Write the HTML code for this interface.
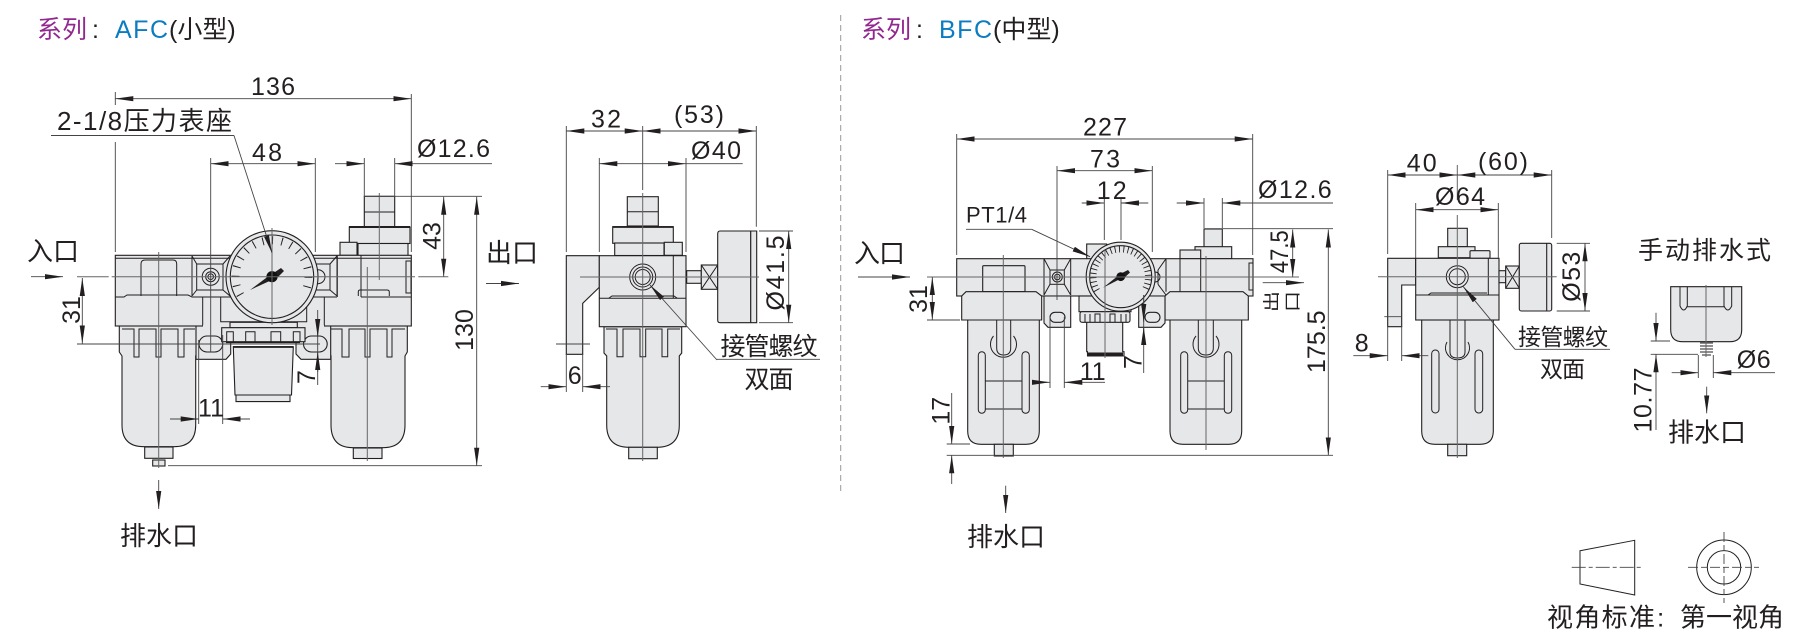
<!DOCTYPE html>
<html><head><meta charset="utf-8"><style>
html,body{margin:0;padding:0;background:#fff}
svg{display:block}
text{font-family:"Liberation Sans","Noto Sans CJK SC",sans-serif;fill:#231f20;font-size:25px}
.o{fill:#e6e7e9;stroke:#231f20;stroke-width:1.1}
.n{fill:none;stroke:#231f20;stroke-width:1}
.c{fill:none;stroke:#666;stroke-width:1}
.d{fill:none;stroke:#444;stroke-width:.9}
.da{fill:none;stroke:#444;stroke-width:.9;marker-end:url(#a);marker-start:url(#r)}
.a1{fill:none;stroke:#444;stroke-width:.9;marker-end:url(#a)}
.m{text-anchor:middle}
.z{font-size:26px}
</style></head><body>
<svg width="1795" height="633" viewBox="0 0 1795 633" xmlns="http://www.w3.org/2000/svg">
<defs>
<marker id="a" markerUnits="userSpaceOnUse" markerWidth="18" markerHeight="6" refX="18" refY="3" orient="auto"><path d="M0 0.4L18 3L0 5.6z" fill="#231f20"/></marker>
<marker id="r" markerUnits="userSpaceOnUse" markerWidth="18" markerHeight="6" refX="18" refY="3" orient="auto-start-reverse"><path d="M0 0.4L18 3L0 5.6z" fill="#231f20"/></marker>
</defs>
<rect width="1795" height="633" fill="#fff"/>

<!-- titles -->
<text x="37" y="38" style="fill:#92278f">系列</text>
<text x="92" y="38">:</text>
<text x="115" y="38" style="fill:#0a7cc1" textLength="53">AFC</text>
<text x="169" y="38">(小型)</text>
<text x="861" y="38" style="fill:#92278f">系列</text>
<text x="916" y="38">:</text>
<text x="939" y="38" style="fill:#0a7cc1" textLength="53">BFC</text>
<text x="993" y="38">(中型)</text>
<path d="M840.7 15V495" fill="none" stroke="#999" stroke-width="1" stroke-dasharray="6 4"/>

<!-- ============ AFC FRONT ============ -->
<rect class="o" x="364.3" y="196.3" width="30.4" height="31"/>
<path class="n" d="M364.3 212H394.7"/>
<rect class="o" x="349.3" y="227" width="60.7" height="16.5"/>
<path d="M349 227H410" stroke="#231f20" stroke-width="2"/>
<rect class="o" x="358" y="243.5" width="50" height="12"/>
<rect class="o" x="340" y="242.3" width="17" height="13"/>
<!-- left bowl -->
<path class="o" d="M119.3 326V352L122 356V425Q122 446.7 144 446.7H174Q195.7 446.7 195.7 425V356L197 352V326z"/>
<path class="n" d="M122 329H134V357H139V329H156V357H161V329H178V357H184V329H195"/>
<rect class="o" x="144.7" y="447" width="28.3" height="11.3"/>
<rect class="o" x="152.7" y="460" width="12.3" height="6"/>
<!-- right bowl -->
<path class="o" d="M329.3 326V352L331 356V425Q331 447.7 353 447.7H383Q405 447.7 405 425V356L407.3 352V326z"/>
<path class="n" d="M331 329H342V357H349V329H365V357H370V329H387V357H392V329H405"/>
<rect class="o" x="353.3" y="448" width="28.7" height="10.5"/>
<!-- brackets -->
<path class="o" d="M196 326V359.3H226L230.7 354V326z"/>
<path class="o" d="M330.7 326V359.3H301L296 354V326z"/>
<rect class="o" x="199" y="336" width="23.7" height="16" rx="8"/>
<rect class="o" x="303.5" y="336" width="23.7" height="16" rx="8"/>
<!-- regulator knob -->
<path class="o" d="M233.3 346.7H293.3L291.5 395H235z"/>
<path class="o" d="M236 395H290V401.6H236z"/>
<path d="M233 347H293" stroke="#231f20" stroke-width="1.8"/>
<!-- head -->
<rect class="o" x="115.3" y="255.3" width="296" height="70.7"/>
<path class="n" d="M115.3 258.3H411.3M115.3 297H124L127 295H188L192 297H337M361 297H411"/>
<path class="n" d="M141 296V264Q141 260 145 260H173Q176.7 260 176.7 264V296"/>
<rect class="n" x="406" y="261" width="5" height="32"/>
<path class="n" d="M337.3 255.5V297M361 255.5V297M358.3 296V292Q358.3 290 360 290H387Q389.3 290 389.3 292V296"/>
<path class="n" d="M192 256V296M202.7 297V326M220.7 297V321.7H306.7V297M324.3 297V326"/>
<rect class="n" x="196.7" y="264" width="26.3" height="26"/>
<path class="n" d="M192 256L196.7 264M192 296L196.7 290M230 256L223 264M230 296L223 290"/>
<circle class="n" cx="210.7" cy="276.7" r="8.5"/><circle class="n" cx="210.7" cy="276.7" r="5"/><circle class="n" cx="210.7" cy="276.7" r="2.8"/>
<path class="n" d="M337 256V296M330 264V290H315M330 264H315M337 256L330 264M337 296L330 290"/>
<circle class="n" cx="318" cy="276.7" r="7"/>
<rect x="203" y="325" width="121" height="2" fill="#e6e7e9"/>
<rect class="o" x="230" y="322.3" width="67.3" height="5.4"/>
<rect class="o" x="221.7" y="327.7" width="83.3" height="14"/>
<path class="n" d="M226.7 342V331.7H233.3V342M245.7 342V331.7H255V342M271 342V331.7H280.7V342M293.3 342V331.7H300V342"/>
<path d="M226 342.3H300" stroke="#231f20" stroke-width="1.6"/>
<!-- gauge -->
<circle cx="272" cy="276.7" r="46" fill="#e6e7e9" stroke="#231f20" stroke-width="1.1"/>
<circle cx="272" cy="276.7" r="41.7" fill="#e6e7e9" stroke="#231f20" stroke-width="1.1"/>
<path d="M240.4 295A36.5 36.5 0 1 1 303.6 295" fill="none" stroke="#231f20" stroke-width="8" stroke-dasharray="1 8.55"/>
<path d="M250 290L270 275L274 279z" fill="#231f20"/>
<path d="M272 274L281 268L284 271L275 280z" fill="#231f20"/>
<circle cx="272" cy="276.7" r="5.6" fill="#111"/>

<!-- center lines AFC -->
<path class="c" d="M77 276.7H108.7M111.7 276.7H415M418.3 276.7H448.3"/>
<path class="c" d="M158.7 252V468M367.3 267V461M272 228V325M379.3 193V280"/>
<path class="a1" d="M31 276.7H63"/>
<path class="d" d="M77 344H320"/>
<path class="d" d="M115.3 92V105M115.3 142V252M411.3 94V252M210.7 158V352M315.3 158V252M364.3 158V197M394.7 158V197M364 196.3H482M168 465.7H482"/>
<path class="da" d="M115.3 98.7H411.3"/>
<path class="d" d="M51 135.5H234"/>
<path class="a1" d="M234 135.5L272 253"/>
<path class="da" d="M210.7 163.7H315.3"/>
<path class="a1" d="M335 163.7H364.3"/>
<path class="a1" d="M492 163.7H394.7"/>
<path class="da" d="M443.7 196.8V276.7"/>
<path class="da" d="M476.7 196.8V465.7"/>
<path class="da" d="M82.3 278V343.5"/>
<path class="d" d="M317.7 310V385M198.7 340V424M222.7 335V424"/>
<path class="a1" d="M317.7 319V337"/><path class="a1" d="M317.7 372V352"/>
<path class="a1" d="M170 419H198.7"/><path class="a1" d="M250 419H222.7"/>
<path class="a1" d="M158.7 480V509"/>
<path class="a1" d="M486 283.5H519"/>

<text x="273" y="95" class="m" textLength="44">136</text>
<text x="57" y="130" class="z" textLength="175">2-1/8压力表座</text>
<text x="267" y="161" class="m" textLength="30">48</text>
<text x="417" y="157" textLength="73">Ø12.6</text>
<text x="27" y="260.5" class="z" textLength="52">入口</text>
<text x="486" y="262" class="z" textLength="52">出口</text>
<text x="120" y="545" class="z" textLength="78">排水口</text>
<text x="211" y="416.7" class="m">11</text>
<text class="m" transform="translate(440.5 236) rotate(-90)">43</text>
<text class="m" transform="translate(473 330) rotate(-90)">130</text>
<text class="m" transform="translate(80 310) rotate(-90)">31</text>
<text class="m" transform="translate(315 377) rotate(-90)">7</text>

<!-- ============ AFC SIDE ============ -->
<rect class="o" x="627.3" y="196.7" width="31" height="29.3"/>
<path class="n" d="M627.3 211.7H658.3"/>
<rect class="o" x="612.7" y="226.7" width="60.6" height="16.6"/>
<path d="M612.7 227H673.3" stroke="#231f20" stroke-width="1.8"/>
<rect class="o" x="614.7" y="243" width="49.3" height="12.5"/>
<rect class="o" x="664.3" y="242.3" width="18" height="13"/>
<path class="o" d="M604 326.7V353L606.7 356V425Q606.7 447.3 629 447.3H657Q679.3 447.3 679.3 425V356L681.7 353V326.7z"/>
<path class="n" d="M606 329H617V356.7H623V329H640V356.7H645.7V329H662V356.7H667.7V329H680"/>
<rect class="o" x="628.7" y="447.3" width="28.6" height="11.4"/>
<path class="o" d="M566.3 255.7H599.3V287.3L582.7 303.3V354.3H566.3z"/>
<rect class="o" x="599.3" y="255.7" width="86.7" height="71"/>
<path class="n" d="M599.3 298.3H686M673.3 255.7V298.3M609 298L612 296H674L677 298"/>
<circle class="n" cx="642.7" cy="277" r="13"/><circle class="n" cx="642.7" cy="277" r="10"/><circle class="n" cx="642.7" cy="277" r="7.5"/>
<rect class="o" x="686.7" y="270.7" width="14.6" height="12.6"/>
<rect class="o" x="701.3" y="265" width="16.4" height="24.3"/>
<path class="n" d="M701.3 265L717.7 289.3M717.7 265L701.3 289.3"/>
<path class="o" d="M720 231H756.7V322.7H720Q717.7 322.7 717.7 320V234Q717.7 231 720 231z"/>
<path d="M750.7 231V322.7" stroke="#231f20" stroke-width="1.2"/>
<path class="c" d="M580 277H759M642.7 193V461"/>
<path class="d" d="M566.3 126V252M642.7 126V190M756.3 126V226.7M599.3 158V252M686 158V252M556 344H590M759 231H793M759 322.7H793M566.3 354V392M582.7 354V392"/>
<path class="da" d="M566.3 131H642.7"/>
<path class="da" d="M642.7 131H756.3"/>
<path class="da" d="M599.3 163.7H686"/><path class="d" d="M686 163.7H742.7"/>
<path class="da" d="M788.7 231V322.7"/>
<path class="a1" d="M540.7 386.7H566.3"/><path class="a1" d="M610 386.7H582.7"/>
<path class="a1" d="M717 360L650 285"/>
<path class="d" d="M716.7 359.3H820"/>
<text x="606" y="127.7" class="m" textLength="30">32</text>
<text x="699" y="123" class="m" textLength="50">(53)</text>
<text x="691" y="159" textLength="50">Ø40</text>
<text class="m" transform="translate(784 273) rotate(-90)" textLength="75">Ø41.5</text>
<text x="574.7" y="384" class="m">6</text>
<text x="720.5" y="355" textLength="97">接管螺纹</text>
<text x="744.5" y="388" textLength="49">双面</text>

<!-- ============ BFC FRONT ============ -->
<rect class="o" x="1204" y="229" width="18.3" height="18"/>
<rect class="o" x="1195" y="246.7" width="36.7" height="12"/>
<rect class="o" x="1180" y="250" width="20.7" height="8.7"/>
<rect class="o" x="1086.7" y="244" width="20" height="15"/>
<!-- bowls -->
<path class="o" d="M967.7 320V431Q967.7 444.3 981 444.3H1026Q1039.3 444.3 1039.3 431V320z"/>
<path class="n" d="M996.7 320V348Q996.7 355 1003.7 355Q1010.7 355 1010.7 348V320"/>
<path class="n" d="M993.5 336A13 13 0 1 0 1013.5 336"/>
<rect class="n" x="978.3" y="351.7" width="7" height="61.6" rx="3.5"/>
<rect class="n" x="1022" y="351.7" width="7.3" height="61.6" rx="3.6"/>
<path class="n" d="M985.3 381H1022M985.3 409H1022"/>
<rect class="o" x="994.3" y="444.3" width="19" height="11.7"/>
<path class="o" d="M1170 320V431Q1170 444.3 1183 444.3H1228.7Q1241.7 444.3 1241.7 431V320z"/>
<path class="n" d="M1198.3 320V348Q1198.3 355 1206 355Q1213.3 355 1213.3 348V320"/>
<path class="n" d="M1196 336A13 13 0 1 0 1216 336"/>
<rect class="n" x="1180.7" y="351.7" width="7" height="61.6" rx="3.5"/>
<rect class="n" x="1224.3" y="351.7" width="7.4" height="61.6" rx="3.6"/>
<path class="n" d="M1187.7 381H1224.3M1187.7 409H1224.3"/>
<!-- head upper -->
<rect class="o" x="956.7" y="258.7" width="296.3" height="37.3"/>
<rect class="o" x="982.7" y="265.7" width="42.3" height="26" rx="1"/>
<rect class="n" x="1249" y="263" width="4" height="27"/>
<path class="n" d="M1180 258.7V291.7M1200.7 258.7V291.7M1044 258.7V295M1070.7 258.7V295M1166 258.7V291.7"/>
<rect class="n" x="1050" y="270" width="14.3" height="14.3"/>
<path class="n" d="M1044 258.7L1050 270M1070.7 258.7L1064.3 270M1044 295L1050 284.3M1070.7 295L1064.3 284.3"/>
<circle class="n" cx="1057.3" cy="277" r="5"/><circle class="n" cx="1057.3" cy="277" r="2.8"/>
<path class="n" d="M1166 258.7L1158 270M1166 295L1158 284.3M1158 270V284.3"/>
<circle class="n" cx="1155" cy="277" r="5"/>
<!-- head lower split -->
<path class="o" d="M961.7 320V296L966 291.7H1036L1041.7 296V320z"/>
<path class="o" d="M1165 320V296L1170 291.7H1243L1248.3 296V320z"/>
<!-- brackets -->
<path class="o" d="M1044 296V323L1048 327.3H1070.7V296z"/>
<path class="o" d="M1138.7 296V327.3H1161L1165 323V296z"/>
<rect class="o" x="1050" y="312.3" width="15" height="10" rx="5"/>
<rect class="o" x="1145" y="312.3" width="15" height="10" rx="5"/>
<!-- knob -->
<rect class="o" x="1079" y="296" width="52" height="15.7"/>
<path class="o" d="M1086.7 322H1122.7V351.7H1124V356H1087.5V351.7H1086.7z"/>
<rect class="o" x="1080" y="311.7" width="50" height="10.6" rx="2"/>
<path class="n" d="M1085 322V314M1090 322V314M1095 322V314H1100V322M1110 322V314H1115V322M1121 322V314M1126 322V314"/>
<path d="M1087 354H1123" stroke="#231f20" stroke-width="3"/>
<!-- gauge -->
<circle cx="1120.7" cy="276.7" r="34.5" fill="#e6e7e9" stroke="#231f20" stroke-width="1.1"/>
<circle cx="1120.7" cy="276.7" r="31" fill="#e6e7e9" stroke="#231f20" stroke-width="1.1"/>
<path d="M1096.9 290.45A27.5 27.5 0 1 1 1144.5 290.45" fill="none" stroke="#231f20" stroke-width="6.5" stroke-dasharray=".9 3.4"/>
<path d="M1103 287.7L1119 275L1122 278z" fill="#231f20"/>
<path d="M1120 274L1128 270L1130 272.5L1123 279z" fill="#231f20"/>
<circle cx="1120.7" cy="276.7" r="4.4" fill="#111"/>

<path class="c" d="M858 277H910M927 277H1299M1003.3 255V458M1206 256V450M1105 250V358"/>
<path class="d" d="M956.7 134V255M1252.7 134V255M1057 166V300M1152.3 166V252M1104.3 198V240M1121 198V240M1204 198V228M1222.3 198V228M1204 228.7H1333M966 229.3H1031.7M927 320H960M946.7 444H970M946.7 455.3H1333M1143.7 295V373M1050 317V388M1064.3 317V388"/>
<path class="a1" d="M858 277H910"/>
<path class="da" d="M956.7 139H1252.7"/>
<path class="da" d="M1057 170.7H1152.3"/>
<path class="a1" d="M1081.7 203H1104.3"/><path class="a1" d="M1148.3 203H1121"/>
<path class="a1" d="M1176.7 203H1204"/><path class="a1" d="M1333 203H1222.3"/>
<path class="a1" d="M1031.7 229.3L1090 256.7"/>
<path class="da" d="M932.3 277V320"/>
<path class="da" d="M1292.7 229.5V277"/>
<path class="da" d="M1328.3 229.5V455.3"/>
<path class="a1" d="M1262.7 282.7H1304"/>
<path class="a1" d="M1143.7 295V322"/><path class="a1" d="M1143.7 345V327"/>
<path class="a1" d="M951.7 393V444"/><path class="a1" d="M951.7 484V455.3"/>
<path class="a1" d="M1032 382.3H1050"/><path class="a1" d="M1105 382.3H1064.3"/>
<path class="a1" d="M1005.7 485.7V513"/>
<text x="1105" y="135.7" class="m" textLength="44">227</text>
<text x="1105" y="167.7" class="m" textLength="30">73</text>
<text x="1111.7" y="199" class="m" textLength="30">12</text>
<text x="1258" y="198" textLength="73.7">Ø12.6</text>
<text x="966" y="222.7" style="font-size:22px" textLength="61">PT1/4</text>
<text x="854" y="262.7" class="z" textLength="51">入口</text>
<text x="967" y="546" class="z" textLength="78">排水口</text>
<text x="1092.7" y="380" class="m">11</text>
<text class="m" transform="translate(927 299) rotate(-90)">31</text>
<text class="m" transform="translate(1288 251.7) rotate(-90) scale(.88 1)">47.5</text>
<text class="m" transform="translate(1325 341.7) rotate(-90)">175.5</text>
<text class="m" transform="translate(949.3 410.7) rotate(-90)">17</text>
<text class="m" transform="translate(1141.7 362) rotate(-90)">7</text>
<text transform="translate(1277.5 312) rotate(-90) scale(1 .8)" style="font-size:21px">出</text>
<text transform="translate(1298.5 312) rotate(-90) scale(1 .8)" style="font-size:21px">口</text>

<!-- ============ BFC SIDE ============ -->
<rect class="o" x="1447.7" y="228.3" width="19.6" height="18.4"/>
<rect class="o" x="1438.3" y="246.7" width="36.7" height="11"/>
<rect class="o" x="1470" y="250.7" width="20" height="7.6" rx="1"/>
<path class="o" d="M1421.7 320V431Q1421.7 444.3 1435 444.3H1480Q1493.3 444.3 1493.3 431V320z"/>
<path class="n" d="M1450 320V352Q1450 358 1457.3 358Q1465 358 1465 352V320"/>
<path class="n" d="M1447 342A12 12 0 1 0 1468 342"/>
<rect class="n" x="1431.7" y="350" width="7.3" height="63" rx="3.6"/>
<rect class="n" x="1475" y="350" width="7.7" height="63" rx="3.8"/>
<rect class="o" x="1447.7" y="444.3" width="19" height="11.4"/>
<path class="o" d="M1387.7 258.3H1415.7V285H1401.7V326.7H1387.7z"/>
<rect class="o" x="1415.7" y="258.3" width="83.3" height="61.7"/>
<path class="n" d="M1415.7 295H1499M1488.3 258.3V295M1428 295L1431 293H1487"/>
<circle class="n" cx="1457.3" cy="276.7" r="11"/><circle class="n" cx="1457.3" cy="276.7" r="8"/>
<rect class="o" x="1499" y="270.7" width="6.7" height="12"/>
<rect class="o" x="1505.7" y="266" width="13.6" height="22.3"/>
<path class="n" d="M1505.7 266L1519.3 288.3M1519.3 266L1505.7 288.3"/>
<rect class="o" x="1519.3" y="243.3" width="32.4" height="67.7" rx="2"/>
<path d="M1546.7 243.3V311" stroke="#231f20" stroke-width="1.1"/>
<path class="c" d="M1378 276.7H1556.7M1457.3 165V200M1457.3 215V458"/>
<path class="d" d="M1387.7 170V254M1551.7 170V238M1415.7 203V258M1498.3 203V258M1384.3 316.7H1401.7M1556.7 243.3H1590M1556.7 311H1590M1387.7 326V361M1401.7 326V361M1515 349.3H1610"/>
<path class="da" d="M1387.7 175H1457.3"/>
<path class="da" d="M1457.3 175H1551.7"/>
<path class="da" d="M1415.7 209.7H1498.3"/>
<path class="da" d="M1585 243.3V311"/>
<path class="a1" d="M1353.3 355.7H1387.7"/><path class="a1" d="M1428.3 355.7H1401.7"/>
<path class="a1" d="M1515 349.3L1463.3 286.7"/>
<text x="1421.7" y="171.7" class="m" textLength="30">40</text>
<text x="1503" y="170" class="m" textLength="50">(60)</text>
<text x="1460" y="205" class="m" textLength="50">Ø64</text>
<text class="m" transform="translate(1580 276.7) rotate(-90)" textLength="50">Ø53</text>
<text x="1361.7" y="351.7" class="m">8</text>
<text x="1518" y="345" style="font-size:23px" textLength="90">接管螺纹</text>
<text x="1540" y="377" style="font-size:23px" textLength="45">双面</text>

<!-- ============ MANUAL DRAIN ============ -->
<text x="1638" y="259" textLength="133">手动排水式</text>
<path class="o" d="M1670.7 286.7H1741.7V329.7Q1741.7 341.7 1729.7 341.7H1682.7Q1670.7 341.7 1670.7 329.7z"/>
<path class="n" d="M1680 286.7V306Q1683.7 314 1687.3 306V286.7M1724 286.7V306Q1727.8 314 1731.7 306V286.7M1687.3 306.7H1724"/>
<path class="n" d="M1700 343H1713M1700 346H1713M1700 349H1713M1700 352H1713M1702 355H1711"/>
<path class="c" d="M1706 285V357"/>
<path class="d" d="M1650.7 341H1670M1650.7 354.3H1698M1698.3 355V378M1713.3 355V378"/>
<path class="a1" d="M1656 312.7V341"/><path class="a1" d="M1656 430V354.3"/>
<path class="a1" d="M1671.7 372.7H1698.3"/><path class="a1" d="M1775 372.7H1713.3"/>
<path class="a1" d="M1706.7 386.7V413.3"/>
<text class="m" transform="translate(1651.7 400) rotate(-90)" textLength="65">10.77</text>
<text x="1736.7" y="368" textLength="34">Ø6</text>
<text x="1668" y="441.7" class="z" textLength="78">排水口</text>

<!-- ============ PROJECTION ============ -->
<path class="n" d="M1580 550.7L1634.7 540.3V595L1580 584z"/>
<path class="d" d="M1571.7 567.3H1642.7" stroke-dasharray="14 3 4 3"/>
<circle class="n" cx="1724" cy="567.3" r="27.3"/>
<circle class="n" cx="1724" cy="567.3" r="16.7"/>
<path class="d" d="M1688 567.3H1759M1724 532V603" stroke-dasharray="10 3 6 3"/>
<text x="1547" y="626.7" class="z" textLength="108">视角标准</text>
<text x="1657" y="626.7" class="z">:</text>
<text x="1680" y="626.7" class="z" textLength="104">第一视角</text>
</svg>
</body></html>
